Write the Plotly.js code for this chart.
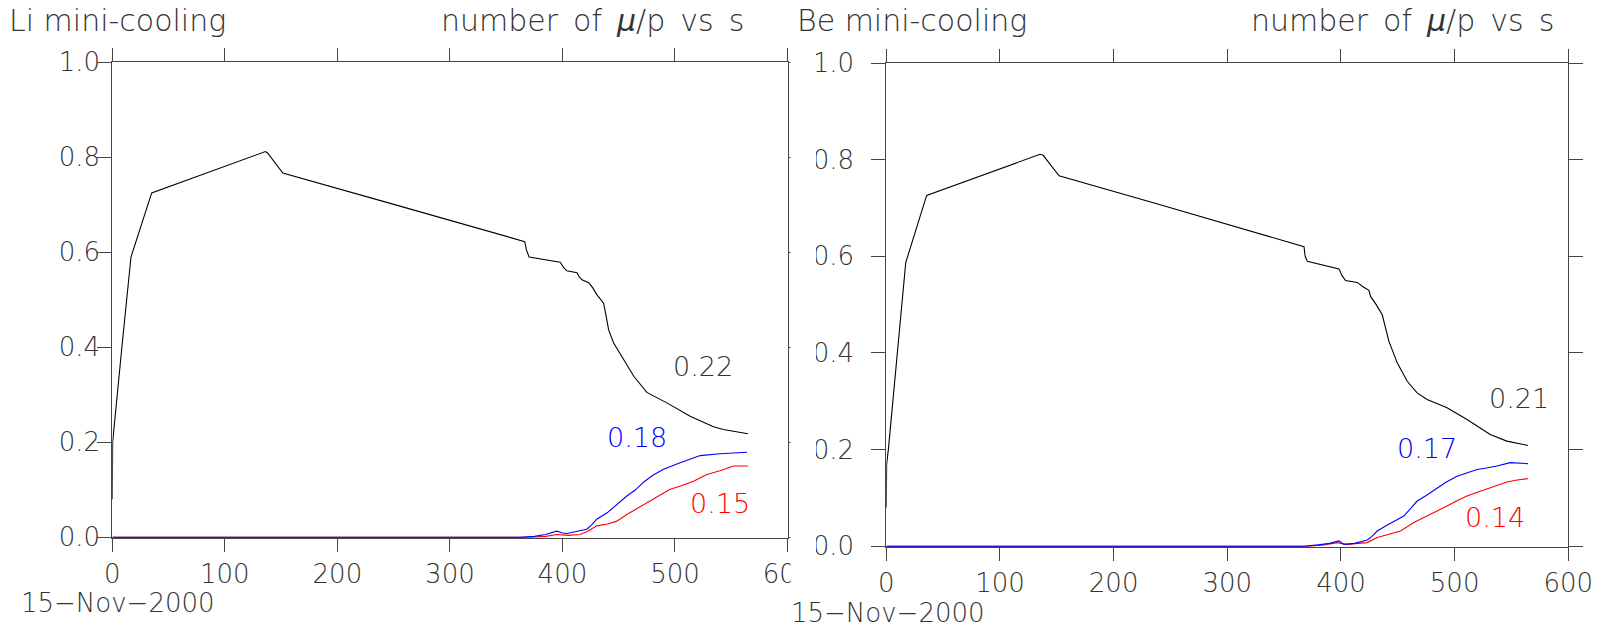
<!DOCTYPE html>
<html>
<head>
<meta charset="utf-8">
<script src="https://cdn.plot.ly/plotly-3.0.1.min.js"></script>
<style>html,body{margin:0;padding:0;background:#fff;}#chart{width:1599px;height:629px;}</style>
</head>
<body>
<div id="chart"></div>
<script>
// ---- Data ----
const xTicks = [0, 100, 200, 300, 400, 500, 600];
const yTicks = [0.0, 0.2, 0.4, 0.6, 0.8, 1.0];

// Li mini-cooling
const liBlackX = [0,0.3,8.5,16.6,35,136,138,151.5,247,327,366.5,368,370.4,398,401,404,412.9,415,417.4,423.3,427,430.7,436.6,438.5,441,445.5,454.5,463.4,475,492.8,513.5,534.2,543,564.8];
const liBlackY = [0.08,0.2,0.40,0.59,0.725,0.812,0.809,0.767,0.703,0.649,0.6225,0.605,0.590,0.579,0.568,0.561,0.557,0.548,0.542,0.536,0.525,0.5105,0.493,0.47,0.437,0.409,0.374,0.339,0.305,0.283,0.255,0.2325,0.227,0.218];
const liBlueX = [0,362,375,385,395,400,404,412,421.6,426,430.5,440,448.3,457.2,465,472,480,489.8,504.6,522.4,540.2,552,564];
const liBlueY = [0,0,0.002,0.006,0.013,0.009,0.008,0.012,0.017,0.026,0.038,0.052,0.069,0.087,0.100,0.116,0.130,0.143,0.157,0.172,0.176,0.178,0.179];
const liRedX = [0,370,385,395,405,415.6,422,430.5,440,448.3,457.2,466,475,485,495.7,505,516.5,528.3,540,552,565];
const liRedY = [0,0,0.002,0.006,0.004,0.006,0.012,0.024,0.028,0.034,0.048,0.060,0.073,0.086,0.101,0.108,0.118,0.132,0.140,0.150,0.150];

// Be mini-cooling
const beBlackX = [0,0.3,1.8,10.6,17.1,35.5,135.2,138,152,241,329.6,367.5,368.5,370.4,398.2,401,404,414.3,420,424.6,426,431,436.3,439,442.2,449.5,458.3,467,475.8,493.3,510.9,531.3,545.9,564.4];
const beBlackY = [0.08,0.17,0.2,0.428,0.587,0.726,0.811,0.809,0.7665,0.7066,0.646,0.620,0.60,0.5895,0.574,0.56,0.550,0.546,0.536,0.5296,0.517,0.50,0.479,0.455,0.424,0.3795,0.3415,0.3175,0.3037,0.2865,0.2624,0.2314,0.2176,0.2087];
const beBlueX = [0,367,380,390,398.2,402.6,412,423.1,427,431.9,440,446.5,455.3,460,467,475,484.6,492,502.1,510,519.7,528,537.2,548.9,556,564.4];
const beBlueY = [0,0,0.003,0.006,0.011,0.004,0.006,0.013,0.020,0.0316,0.043,0.052,0.0626,0.075,0.0936,0.105,0.121,0.132,0.145,0.152,0.159,0.162,0.166,0.173,0.172,0.171];
const beRedX = [0,370,385,396.7,405,423,431.9,440,452.4,464.1,472,481.6,493.3,502,510.9,520,528.4,537,546,555,564.4];
const beRedY = [0,0,0.003,0.0076,0.004,0.0076,0.018,0.024,0.0316,0.049,0.058,0.0696,0.0833,0.094,0.104,0.112,0.119,0.126,0.133,0.137,0.140];

const liLabels = {black: "0.22", blue: "0.18", red: "0.15"};
const beLabels = {black: "0.21", blue: "0.17", red: "0.14"};

// ---- Styling ----
const FONT = 'DejaVu Sans, Liberation Sans, sans-serif';
const W = 1599, H = 629;
const px = v => v / W;
const py = v => 1 - v / H;
const SP = '\u2002';

function line(x, y, color, xa, ya) {
  return {x: x, y: y, type: 'scatter', mode: 'lines', xaxis: xa, yaxis: ya,
          line: {color: color, width: 1.1}, hoverinfo: 'skip'};
}

const traces = [
  line(liRedX, liRedY, '#ff0000', 'x', 'y'),
  line(liBlueX, liBlueY, '#0000ff', 'x', 'y'),
  line(liBlackX, liBlackY, '#000000', 'x', 'y'),
  line(beRedX, beRedY, '#ff0000', 'x2', 'y2'),
  line(beBlueX, beBlueY, '#0000ff', 'x2', 'y2'),
  line(beBlackX, beBlackY, '#000000', 'x2', 'y2')
];

const tickFont = {family: FONT, size: 26, color: '#333', weight: 200};
function xAxis(domain, anchor) {
  return {domain: domain, anchor: anchor, range: [0, 600], tickvals: xTicks,
          ticktext: xTicks.map(String), showgrid: false, zeroline: false,
          showline: true, linecolor: '#444', linewidth: 1, mirror: 'ticks',
          ticks: 'outside', ticklen: 13, tickwidth: 1, tickcolor: '#444',
          tickfont: tickFont, layer: 'below traces', automargin: false, fixedrange: true};
}
function yAxis(domain, anchor, standoff) {
  return {domain: domain, anchor: anchor, range: [-0.0015, 1], tickvals: yTicks,
          ticktext: yTicks.map(v => v.toFixed(1)), showgrid: false, zeroline: false,
          showline: true, linecolor: '#444', linewidth: 1, mirror: 'ticks',
          ticks: 'outside', ticklen: 14, tickwidth: 1, tickcolor: '#444',
          ticklabelstandoff: standoff,
          tickfont: tickFont, layer: 'below traces', automargin: false, fixedrange: true};
}

const titleFont = {family: FONT, size: 30, color: '#333', weight: 200};
const dateFont = {family: FONT, size: 26, color: '#333', weight: 200};
const labFont = c => ({family: FONT, size: 27, color: c, weight: 200});

function pAnn(text, x, y, xanchor, yanchor, font) {
  return {text: text, xref: 'paper', yref: 'paper', x: px(x), y: py(y),
          xanchor: xanchor, yanchor: yanchor, showarrow: false, font: font, borderpad: 0};
}
function dAnn(text, x, y, xa, ya, c) {
  return {text: text, xref: xa, yref: ya, x: x, y: y, xanchor: 'center', yanchor: 'middle',
          showarrow: false, font: labFont(c)};
}

const muTitle = ['number', 'of', '<i>μ</i>/p', 'vs', 's'].join(SP);

const layout = {
  width: W, height: H,
  margin: {l: 0, r: 0, t: 0, b: 0, pad: 0},
  paper_bgcolor: '#fff', plot_bgcolor: '#fff',
  showlegend: false,
  xaxis: xAxis([px(112.3), px(787.5)], 'y'),
  yaxis: yAxis([1 - 538 / H, 1 - 62.3 / H], 'x', -8),
  xaxis2: xAxis([px(886.3), px(1568.3)], 'y2'),
  yaxis2: yAxis([1 - 547 / H, 1 - 63 / H], 'x2', 12),
  annotations: [
    pAnn('Li mini-cooling', 8, 21, 'left', 'middle', titleFont),
    pAnn(muTitle, 745, 21, 'right', 'middle', titleFont),
    pAnn('Be mini-cooling', 796, 21, 'left', 'middle', titleFont),
    pAnn(muTitle, 1555, 21, 'right', 'middle', titleFont),
    pAnn('15\u2212Nov\u22122000', 20, 603, 'left', 'middle', dateFont),
    pAnn('15\u2212Nov\u22122000', 790, 629, 'left', 'bottom', dateFont),
    dAnn(liLabels.black, 524.6, 0.359, 'x', 'y', '#333'),
    dAnn(liLabels.blue, 466.4, 0.210, 'x', 'y', '#0000ff'),
    dAnn(liLabels.red, 540.2, 0.0714, 'x', 'y', '#ff0000'),
    dAnn(beLabels.black, 556.2, 0.306, 'x2', 'y2', '#333'),
    dAnn(beLabels.blue, 475.7, 0.2025, 'x2', 'y2', '#0000ff'),
    dAnn(beLabels.red, 535.5, 0.060, 'x2', 'y2', '#ff0000')
  ],
  shapes: [
    // the left panel is cut off at its right edge in the reference
    {type: 'rect', xref: 'paper', yref: 'paper', x0: px(790.5), x1: px(816),
     y0: py(590), y1: py(45), fillcolor: '#fff', line: {width: 0}, layer: 'above'}
  ]
};

Plotly.newPlot('chart', traces, layout, {displayModeBar: false, staticPlot: true});
</script>
</body>
</html>
